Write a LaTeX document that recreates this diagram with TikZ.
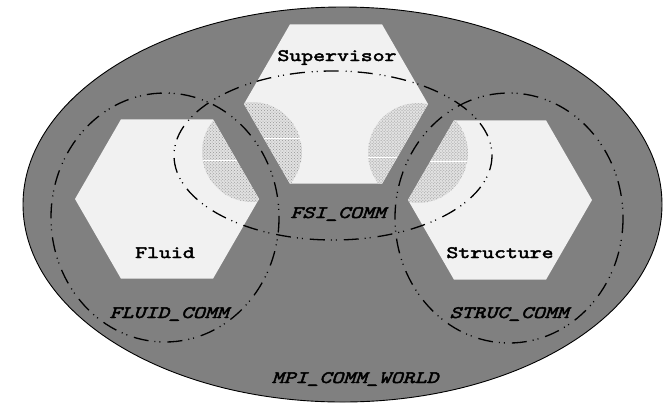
\documentclass[tikz,border=0pt]{standalone}
\usepackage{fontspec}
\usetikzlibrary{patterns}
\newfontfamily\procfont{lmmono10-regular.otf}[FakeStretch=1.3,FakeBold=2.6]
\newfontfamily\commfont{lmmono10-italic.otf}[FakeStretch=1.3,FakeBold=2.6]
\definecolor{worldgray}{RGB}{128,128,128}
\definecolor{hexgray}{RGB}{241,241,241}
\definecolor{hatchbase}{RGB}{225,225,225}
\definecolor{hatchdot}{RGB}{150,150,150}
\tikzset{
  world/.style={draw=black,line width=0.9bp,fill=worldgray},
  hexfill/.style={fill=hexgray},
  hatchfill/.style={fill=hatchbase},
  hatchpat/.style={pattern=crosshatch dots,pattern color=hatchdot},
  seam/.style={draw=white,line width=0.8bp},
  commline/.style={draw=black,line width=1.3bp,dash pattern=on 15bp off 7bp on 1bp off 4bp on 1bp off 6bp},
  procname/.style={font=\procfont\fontsize{17.5}{20}\selectfont,anchor=base,inner sep=0pt},
  commname/.style={font=\commfont\fontsize{17.5}{20}\selectfont,anchor=base,inner sep=0pt}
}
\newcommand{\hexat}[2]{(#1+92,#2) -- (#1+46,#2-79.7) -- (#1-46,#2-79.7) -- (#1-92,#2) -- (#1-46,#2+79.7) -- (#1+46,#2+79.7) -- cycle}
\begin{document}
\begin{tikzpicture}[x=1bp,y=-1bp]
\useasboundingbox (0,0) rectangle (666,411);
% MPI_COMM_WORLD
\path[world] (342.5,204.5) ellipse [x radius=319.5, y radius=197.5];
% hexagons
\fill[hexfill] \hexat{336}{104};
\fill[hexfill] \hexat{167}{199};
\fill[hexfill] \hexat{500}{200};
% hatched overlaps, visible only inside hexagons
\begin{scope}
  \clip \hexat{167}{199};
  \clip (252,152) circle [radius=50];
  \fill[hatchfill] (252,152) circle [radius=50];
  \fill[hatchpat] (252,152) circle [radius=50];
  \draw[seam] (190,160) -- (320,160);
\end{scope}
\begin{scope}
  \clip \hexat{336}{104};
  \clip (252,152) circle [radius=50];
  \fill[hatchfill] (252,152) circle [radius=50];
  \fill[hatchpat] (252,152) circle [radius=50];
  \draw[seam] (190,138) -- (320,138);
\end{scope}
\begin{scope}
  \clip \hexat{336}{104};
  \clip (418,153) circle [radius=50];
  \fill[hatchfill] (418,153) circle [radius=50];
  \fill[hatchpat] (418,153) circle [radius=50];
  \draw[seam] (350,157) -- (480,157);
\end{scope}
\begin{scope}
  \clip \hexat{500}{200};
  \clip (418,153) circle [radius=50];
  \fill[hatchfill] (418,153) circle [radius=50];
  \fill[hatchpat] (418,153) circle [radius=50];
  \draw[seam] (350,161) -- (480,161);
\end{scope}
% communicators
\path[commline] (165,217.5) ellipse [x radius=114, y radius=124.5];
\path[commline] (509,218) ellipse [x radius=114, y radius=125];
\path[commline] (333,155.5) ellipse [x radius=159, y radius=84.5];
% labels
\node[procname] (sup) at (337,61) {Supervisor};
\node[procname] (flu) at (165,258) {Fluid};
\node[procname] (str) at (500,258) {Structure};
\node[commname] (fsi) at (338,218) {FSI\_COMM};
\node[commname] (fluc) at (169,318) {FLUID\_COMM};
\node[commname] (strc) at (509,318) {STRUC\_COMM};
\node[commname] (mpi) at (355,383) {MPI\_COMM\_WORLD};
\end{tikzpicture}
\end{document}
